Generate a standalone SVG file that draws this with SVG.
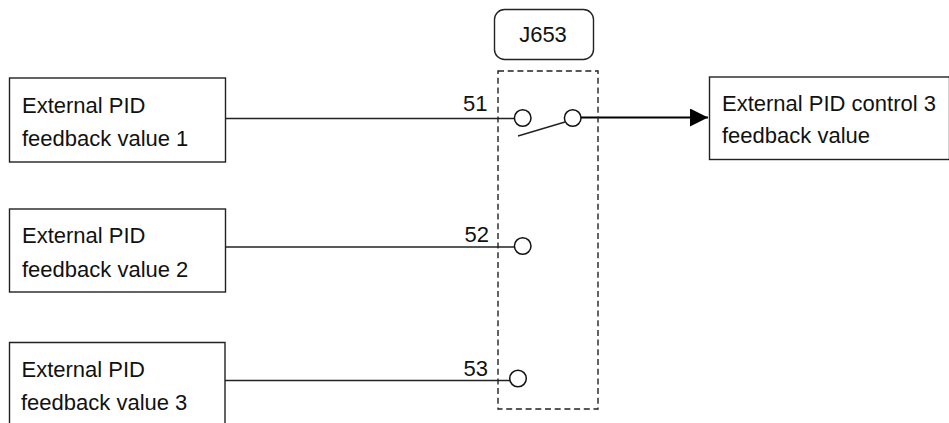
<svg xmlns="http://www.w3.org/2000/svg" width="949" height="423" viewBox="0 0 949 423">
<style>
text{font-family:"Liberation Sans",Arial,sans-serif;font-size:22px;fill:#111}
.b{fill:#fff;stroke:#222;stroke-width:1.4}
.l{fill:none;stroke:#222;stroke-width:1.4}
.c{fill:#fff;stroke:#111;stroke-width:1.5}
</style>
<defs><marker id="a" markerUnits="userSpaceOnUse" markerWidth="18" markerHeight="18" refX="18" refY="9" orient="auto"><path d="M0 0L18 9L0 18Z" fill="#000"/></marker></defs>
<rect width="949" height="423" fill="#fff"/>
<g id="connectors">
<path class="l" d="M225 118.500H514"/>
<path class="l" d="M225 247H514"/>
<path class="l" d="M225 380.500H510"/>
<path class="l" d="M518 136L565 122"/>
<path d="M581 117.500H708" fill="none" stroke="#000" stroke-width="2" marker-end="url(#a)"/>
</g>
<g id="source1"><rect class="b" x="9.500" y="78" width="216" height="84"/><text x="22" y="113">External PID</text><text x="22" y="146">feedback value 1</text></g>
<g id="source2"><rect class="b" x="9.500" y="209" width="216" height="83"/><text x="22" y="243">External PID</text><text x="22" y="277">feedback value 2</text></g>
<g id="source3"><path class="b" d="M9.500 423V342.500H225V423"/><text x="21.500" y="377">External PID</text><text x="21" y="410">feedback value 3</text></g>
<g id="output"><rect class="b" x="709.500" y="77" width="240" height="82.500"/><text x="722" y="111">External PID control 3</text><text x="722" y="143">feedback value</text></g>
<g id="j653"><rect class="b" x="494.500" y="9.500" width="99" height="50" rx="10"/><text x="543" y="42" text-anchor="middle">J653</text></g>
<g id="switch-box"><rect x="498" y="71" width="100" height="338" fill="none" stroke="#222" stroke-width="1.4" stroke-dasharray="6 3.700"/></g>
<g id="terminal-51"><text x="463" y="111">51</text><circle class="c" cx="522.700" cy="118" r="8.300"/></g>
<g id="terminal-out"><circle class="c" cx="572.700" cy="118" r="8.300"/></g>
<g id="terminal-52"><text x="464.500" y="242">52</text><circle class="c" cx="522.700" cy="246" r="8.300"/></g>
<g id="terminal-53"><text x="463.500" y="376">53</text><circle class="c" cx="518" cy="378.500" r="8.300"/></g>
</svg>
